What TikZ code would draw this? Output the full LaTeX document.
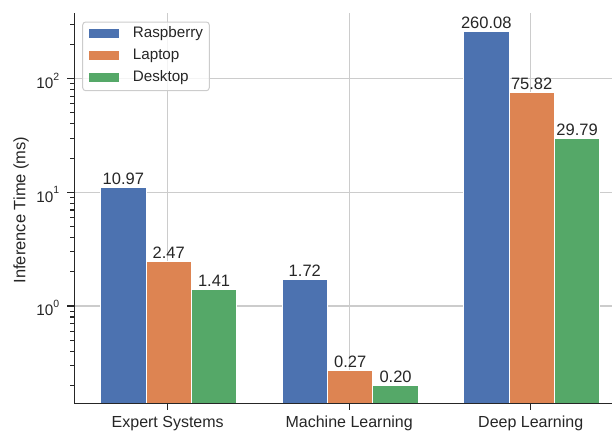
\documentclass[tikz,border=0pt]{standalone}
\usepackage{fontspec}
\setmainfont{Liberation Sans}
\definecolor{cblue}{HTML}{4C72B0}
\definecolor{corange}{HTML}{DD8452}
\definecolor{cgreen}{HTML}{55A868}
\definecolor{ink}{HTML}{262626}
\definecolor{gridc}{HTML}{CCCCCC}
\tikzset{
  bar/.style={draw=white, line width=1pt},
  gridline/.style={draw=gridc, line width=1.1pt},
  spine/.style={draw=ink, line width=1.5pt},
  majtick/.style={draw=ink, line width=1.4pt},
  mintick/.style={draw=ink, line width=1.1pt},
  lbl/.style={text=ink, font=\fontsize{16}{19}\selectfont, inner sep=0pt},
  leglbl/.style={text=ink, font=\fontsize{15.2}{18}\selectfont, inner sep=0pt},
  vallbl/.style={text=ink, font=\fontsize{16.5}{19}\selectfont, inner sep=0pt, anchor=base},
}
\begin{document}
\begin{tikzpicture}[x=1pt,y=-1pt]
\useasboundingbox (0,0) rectangle (612,432);
% grid
\foreach \yy in {306,192.35,78.7} \draw[gridline] (74.3,\yy) -- (612,\yy);
\foreach \xx in {167.7,349.2,530.7} \draw[gridline] (\xx,13) -- (\xx,403.3);
% bars
\newcommand{\mybar}[5]{% name, left x, top y, color, label
  \fill[#4] (#2,#3) rectangle ++(45.4,403.3-#3);
  \draw[bar] (#2,403.3) -- (#2,#3) -- ++(45.4,0) -- (#2+45.4,403.3);
  \node[vallbl] (#1) at (#2+22.7,#3-3) {#5};
}
\mybar{e1}{100.6}{187.7}{cblue}{10.97}
\mybar{e2}{146.0}{261.35}{corange}{2.47}
\mybar{e3}{191.4}{289.0}{cgreen}{1.41}
\mybar{m1}{282.1}{279.2}{cblue}{1.72}
\mybar{m2}{327.5}{370.65}{corange}{0.27}
\mybar{m3}{372.9}{385.5}{cgreen}{0.20}
\mybar{d1}{463.6}{31.4}{cblue}{260.08}
\mybar{d2}{509.0}{92.3}{corange}{75.82}
\mybar{d3}{554.4}{138.4}{cgreen}{29.79}
% spines
\draw[spine] (74.3,13) -- (74.3,403.3) -- (612,403.3);
% y ticks
\foreach \yy/\e in {306/0,192.35/1,78.7/2} {
  \draw[majtick] (74.3,\yy) -- ++(-7,0);
  \node[lbl, anchor=east, font=\fontsize{15.3}{18}\selectfont] (yt\e) at (59.5,\yy+2) {10\raisebox{0.55em}{\fontsize{10.5}{12}\selectfont \e}};
}
\foreach \d in {-1,0,1} \foreach \m in {2,...,9} {
  \pgfmathsetmacro\yy{306-113.65*(\d+log10(\m))}
  \draw[mintick] (74.3,\yy) -- ++(-4,0);
}
\foreach \m in {2,3} {
  \pgfmathsetmacro\yy{306-113.65*(2+log10(\m))}
  \draw[mintick] (74.3,\yy) -- ++(-4,0);
}
% x ticks
\foreach \xx/\t/\n in {167.7/Expert Systems/xa,349.2/Machine Learning/xb,530.7/Deep Learning/xc} {
  \draw[majtick] (\xx,403.3) -- ++(0,7);
  \node[lbl, anchor=base] (\n) at (\xx,427) {\t};
}
% y label
\node[vallbl, anchor=center, rotate=90] (ylab) at (21,210) {Inference Time (ms)};
% legend
\node[draw=gridc, fill=white, fill opacity=0.8, rounded corners=3pt, line width=1pt, minimum width=126.6pt, minimum height=68.7pt, inner sep=0pt] (leg) at (146,56.35) {};
\foreach \yy/\c/\t/\n in {33.3/cblue/Raspberry/la,55.5/corange/Laptop/lb,77.4/cgreen/Desktop/lc} {
  \fill[\c] (89.3,\yy-4.4) rectangle (119,\yy+4.4);
  \node[leglbl, anchor=west] (\n) at (132.7,\yy) {\t};
}
\end{tikzpicture}
\end{document}
